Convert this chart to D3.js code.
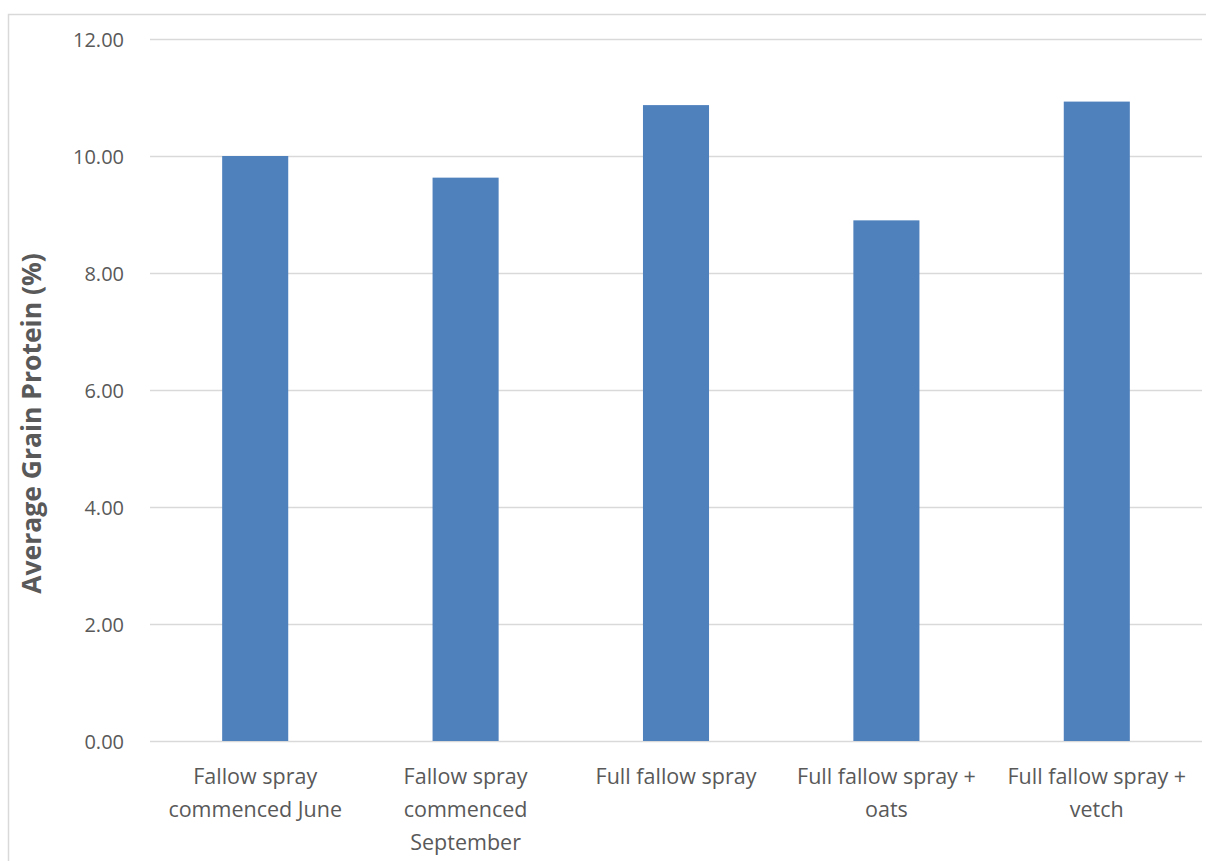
<!DOCTYPE html>
<html>
<head>
<meta charset="utf-8">
<script src="https://cdn.jsdelivr.net/npm/d3@7"></script>
<style>
  html, body { margin: 0; padding: 0; background: #fff; }
  svg { display: block; }
</style>
</head>
<body>
<svg id="chart" width="1206" height="861"></svg>
<script>
const categories = [
  ["Fallow spray", "commenced June"],
  ["Fallow spray", "commenced", "September"],
  ["Full fallow spray"],
  ["Full fallow spray +", "oats"],
  ["Full fallow spray +", "vetch"]
];
const values = [10.00, 9.63, 10.87, 8.90, 10.93];
const yTicks = [0, 2, 4, 6, 8, 10, 12];
const yTitle = "Average Grain Protein (%)";

const svg = d3.select("#chart");
const font = "'Open Sans', 'Noto Sans', sans-serif";
const textColor = "#595959";

// outer chart border
svg.append("rect")
  .attr("x", 8.5).attr("y", 14.5)
  .attr("width", 1400).attr("height", 1000)
  .attr("fill", "none").attr("stroke", "#d9d9d9").attr("stroke-width", 1.5);

const keys = categories.map((c, i) => i);
const x = d3.scaleBand().domain(keys).range([150, 1202])
  .paddingInner(0.686).paddingOuter(0.343);
const y = d3.scaleLinear().domain([0, 12]).range([741, 39]);

// gridlines
svg.append("g").selectAll("line").data(yTicks).join("line")
  .attr("x1", 150).attr("x2", 1202)
  .attr("y1", d => y(d) + 0.5).attr("y2", d => y(d) + 0.5)
  .attr("stroke", "#d9d9d9").attr("stroke-width", 1.3);

// y tick labels
svg.append("g").selectAll("text").data(yTicks).join("text")
  .attr("x", 124).attr("y", d => y(d) + 7.5)
  .attr("text-anchor", "end")
  .attr("font-family", font).attr("font-size", "20px")
  .attr("fill", textColor)
  .text(d => d.toFixed(2));

// bars
svg.append("g").selectAll("rect").data(values).join("rect")
  .attr("x", (d, i) => x(i))
  .attr("width", x.bandwidth())
  .attr("y", d => y(d))
  .attr("height", d => y(0) - y(d))
  .attr("fill", "#4f81bd");

// category labels
const catG = svg.append("g").selectAll("text").data(categories).join("text")
  .attr("text-anchor", "middle")
  .attr("font-family", font).attr("font-size", "21.5px")
  .attr("fill", textColor);
catG.each(function(lines, i) {
  const t = d3.select(this);
  lines.forEach((ln, j) => {
    t.append("tspan")
      .attr("x", x(i) + x.bandwidth() / 2)
      .attr("y", 784 + j * 33)
      .text(ln);
  });
});

// y axis title
svg.append("text")
  .attr("transform", "translate(41,423.5) rotate(-90)")
  .attr("text-anchor", "middle")
  .attr("font-family", font).attr("font-size", "26.5px")
  .attr("font-weight", "bold")
  .attr("fill", textColor)
  .text(yTitle);
</script>
</body>
</html>
